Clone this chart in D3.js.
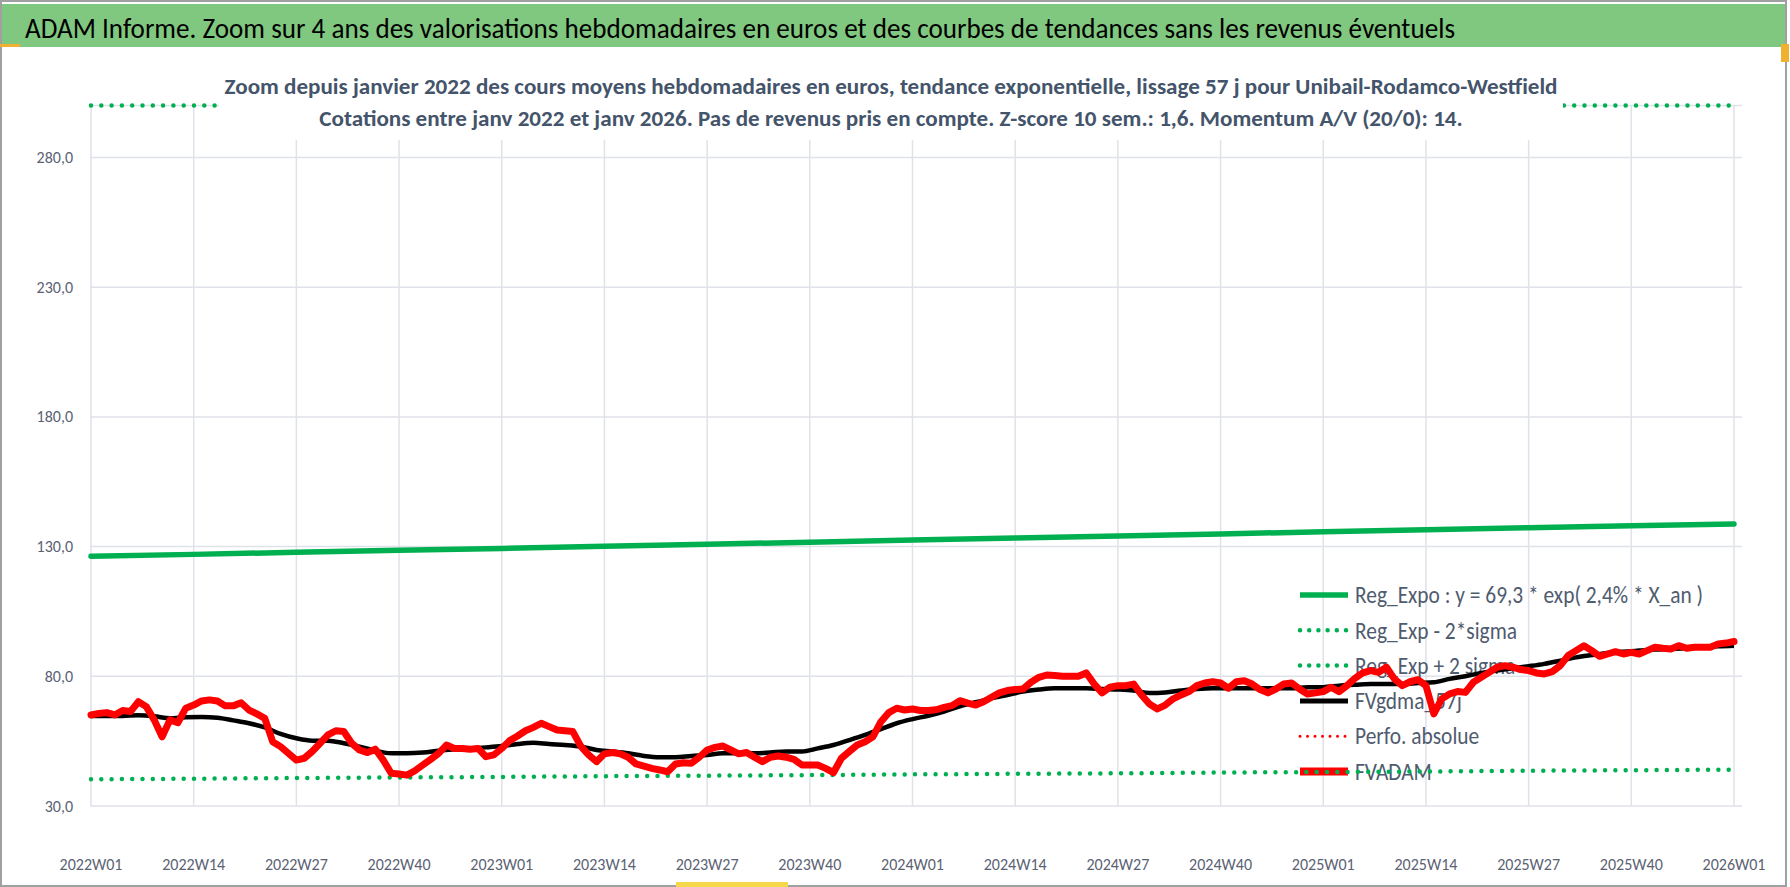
<!DOCTYPE html>
<html>
<head>
<meta charset="utf-8">
<script src="https://cdn.jsdelivr.net/npm/d3@7"></script>
<style>
  body { margin: 0; background: #fff; }
  svg text { font-family: Carlito, Lato, "Open Sans", sans-serif; }
</style>
</head>
<body>
<div id="chart"></div>
<script>
// ---- data ----
var titleText = "ADAM Informe. Zoom sur 4 ans des valorisations hebdomadaires en euros et des courbes de tendances sans les revenus éventuels";
var subtitleLines = [
  "Zoom depuis janvier 2022 des cours moyens hebdomadaires en euros, tendance exponentielle, lissage 57 j pour Unibail-Rodamco-Westfield",
  "Cotations entre janv 2022 et janv 2026. Pas de revenus pris en compte. Z-score 10 sem.: 1,6. Momentum A/V (20/0): 14."
];

// category axis: week index 0 = 2022W01 ... 208 = 2026W01
var weekLabels = ["2022W01", "2022W14", "2022W27", "2022W40", "2023W01", "2023W14", "2023W27", "2023W40",
  "2024W01", "2024W14", "2024W27", "2024W40", "2025W01", "2025W14", "2025W27", "2025W40", "2026W01"];
var labelWeeks = [0, 13, 26, 39, 52, 65, 78, 91, 104, 117, 130, 143, 156, 169, 182, 195, 208];

var yTicks = [30, 80, 130, 180, 230, 280];

// exponential trend and +/- 2 sigma band, read at each labelled week
var regExpo = [126.3, 127.0, 127.8, 128.6, 129.3, 130.1, 130.9, 131.7, 132.5, 133.3, 134.1, 134.9, 135.7, 136.5, 137.3, 138.0, 138.7];
var regExpLow = [40.3, 40.5, 40.8, 41.0, 41.2, 41.5, 41.7, 41.9, 42.2, 42.4, 42.6, 42.9, 43.1, 43.3, 43.6, 43.8, 44.0];
var regExpHigh = [399, 402, 404, 407, 409, 412, 414, 417, 419, 422, 424, 427, 430, 432, 435, 437, 440];

// FVADAM weekly values (week 0 .. 208)
var fvadam = [
  65.1, 65.7, 66.0, 65.1, 66.8, 66.4, 70.2, 68.3, 63.2, 56.7,
  63.2, 62.1, 67.7, 68.9, 70.5, 70.9, 70.5, 68.6, 68.6, 69.8,
  67.0, 65.5, 63.8, 54.8, 52.9, 50.3, 47.7, 48.4, 51.0, 54.2,
  57.4, 59.0, 58.7, 54.2, 51.6, 50.6, 51.9, 47.7, 42.6, 42.3,
  41.9, 43.6, 45.8, 48.0, 50.3, 53.5, 52.2, 52.2, 51.9, 52.2,
  49.0, 49.7, 52.2, 55.2, 57.0, 59.0, 60.3, 61.9, 60.6, 59.3,
  59.0, 58.7, 53.1, 49.7, 47.1, 50.1, 50.6, 50.1, 48.8, 46.2,
  45.4, 44.5, 43.9, 43.2, 46.2, 46.7, 46.5, 48.8, 51.6, 52.6,
  53.1, 51.6, 50.1, 50.6, 48.8, 47.1, 48.8, 49.3, 48.8, 48.0,
  45.8, 45.8, 45.8, 44.5, 42.9, 48.4, 51.0, 53.5, 54.8, 56.7,
  62.5, 66.0, 67.7, 67.0,
  67.4, 66.8, 66.8, 67.1, 68.0, 68.7, 70.6, 69.7, 68.9, 70.2,
  71.9, 73.6, 74.5, 74.9, 75.1, 77.7, 79.6, 80.5, 80.3, 80.0,
  80.0, 80.0, 81.3, 77.0, 73.6, 75.8, 76.4, 76.4, 77.0, 72.8,
  69.3, 67.4, 68.9, 71.3, 72.8, 74.1, 76.4, 77.4, 77.9, 77.4,
  75.4, 77.9, 78.3, 77.0, 74.9, 73.6, 75.1, 77.0, 77.4, 75.1,
  73.2, 73.6, 74.1, 75.8, 74.1, 76.4, 79.2, 81.3, 82.2, 81.5,
  83.5, 79.0, 76.4, 77.9, 78.7, 76.4, 65.5, 71.3, 73.2, 74.1,
  73.8, 77.7, 79.6, 81.5, 83.5, 84.1, 83.5, 82.6, 82.2, 81.3,
  80.9, 81.8, 84.1, 88.0, 89.9, 91.8, 89.9, 87.7, 88.6, 89.5,
  88.6, 89.2, 88.6, 89.9, 91.2, 90.8, 90.5, 91.8, 90.8, 91.2,
  91.2, 91.2, 92.5, 92.8, 93.4
];

// FVgdma_57j, read every second week (week 0, 2, 4 ... 208)
var fvgdma = [
  64.7, 64.7, 64.7, 65.0, 64.6, 63.8, 64.2, 64.3, 64.0, 63.0,
  61.9, 60.3, 57.8, 56.1, 55.2, 55.2, 54.2, 52.9, 51.3, 50.3,
  50.3, 50.6, 51.3, 51.9, 52.2, 52.6, 53.1, 53.9, 54.4, 53.9,
  53.5, 52.9, 51.6, 51.0, 50.3, 49.3, 48.8, 48.8, 49.3, 49.7,
  50.3, 50.3, 50.3, 50.6, 51.0, 51.0, 52.2, 53.5, 55.4, 57.4,
  59.6, 61.9, 63.5, 64.8, 66.4, 68.4, 70.0, 71.5, 72.8, 74.1,
  74.9, 75.4, 75.4, 75.4, 75.1, 74.9, 74.5, 73.6, 73.8, 74.5,
  75.1, 75.4, 75.4, 75.4, 75.4, 75.4, 75.4, 75.8, 75.8, 76.4,
  76.7, 77.0, 77.0, 77.0, 77.4, 77.7, 79.0, 80.0, 81.3, 82.2,
  83.1, 83.9, 84.8, 86.0, 87.3, 88.2, 89.0, 89.5, 89.9, 90.3,
  90.5, 90.8, 91.2, 91.6, 91.8
];
var fvgdmaWeeks = d3.range(0, 209, 2);

var perfoAbsolue = []; // legend only, no visible points

var legendItems = [
  { name: "Reg_Expo : y = 69,3 * exp( 2,4% *  X_an )", type: "solidGreen" },
  { name: "Reg_Exp - 2*sigma", type: "dotGreen" },
  { name: "Reg_Exp + 2 sigma", type: "dotGreen" },
  { name: "FVgdma_57j", type: "black" },
  { name: "Perfo. absolue", type: "dotRed" },
  { name: "FVADAM", type: "red" }
];

// ---- drawing ----
var W = 1790, H = 887;
var GREEN = "#00b050", RED = "#ff0000";

var svg = d3.select("#chart").append("svg")
  .attr("width", W)
  .attr("height", H);

var x = d3.scaleLinear().domain([0, 208]).range([91, 1734]);
var y = d3.scaleLinear().domain([30, 300]).range([806, 105.6]).clamp(true);

// frame + title bar
svg.append("rect").attr("x", 1).attr("y", 1).attr("width", 1785).attr("height", 885)
  .attr("fill", "#fff").attr("stroke", "#a0a0a0").attr("stroke-width", 2);
svg.append("rect").attr("x", 2).attr("y", 4).attr("width", 1783).attr("height", 43)
  .attr("fill", "#80c77f");
svg.append("rect").attr("x", 0).attr("y", 44).attr("width", 20).attr("height", 3).attr("fill", "#f0b030");
svg.append("rect").attr("x", 1781).attr("y", 44).attr("width", 8).attr("height", 18).attr("fill", "#f0b030");
svg.append("rect").attr("x", 676).attr("y", 882).attr("width", 112).attr("height", 5).attr("fill", "#f5d94a");

var title = svg.append("text")
  .attr("x", 25).attr("y", 38)
  .attr("font-size", 29)
  .attr("fill", "#000")
  .text(titleText);
title.attr("textLength", 1430).attr("lengthAdjust", "spacingAndGlyphs");

// gridlines
var grid = svg.append("g").attr("class", "grid");
grid.selectAll(".hgrid").data(yTicks.concat([300]))
  .enter().append("line")
  .attr("x1", 90).attr("x2", 1742)
  .attr("y1", d => y(d)).attr("y2", d => y(d))
  .attr("stroke", "#dfe2e9").attr("stroke-width", 1.5);
grid.selectAll(".vgrid").data(labelWeeks)
  .enter().append("line")
  .attr("x1", d => x(d)).attr("x2", d => x(d))
  .attr("y1", y(300)).attr("y2", y(30))
  .attr("stroke", "#dfe2e9").attr("stroke-width", 1.5);

// axes labels
svg.append("g").selectAll("text").data(yTicks)
  .enter().append("text")
  .attr("x", 73).attr("y", d => y(d))
  .attr("dy", "0.35em")
  .attr("text-anchor", "end")
  .attr("font-size", 16)
  .attr("fill", "#5a6273")
  .text(d => d.toFixed(1).replace(".", ","));

svg.append("g").selectAll("text").data(labelWeeks)
  .enter().append("text")
  .attr("x", d => x(d)).attr("y", 864)
  .attr("dy", "0.35em")
  .attr("text-anchor", "middle")
  .attr("font-size", 16)
  .attr("fill", "#5a6273")
  .text((d, i) => weekLabels[i]);

// legend (sits under the series, like in the reference)
var legend = svg.append("g").attr("transform", "translate(1298,595)");
var rowH = 35.3;
function sampleStyle(sel, type) {
  if (type === "solidGreen") sel.attr("stroke", GREEN).attr("stroke-width", 5.5);
  if (type === "dotGreen") sel.attr("stroke", GREEN).attr("stroke-width", 4.5)
    .attr("stroke-dasharray", "0 9.2").attr("stroke-linecap", "round");
  if (type === "black") sel.attr("stroke", "#000").attr("stroke-width", 5);
  if (type === "dotRed") sel.attr("stroke", RED).attr("stroke-width", 3)
    .attr("stroke-dasharray", "0 7.5").attr("stroke-linecap", "round");
  if (type === "red") sel.attr("stroke", RED).attr("stroke-width", 8);
}
var rows = legend.selectAll(".row").data(legendItems)
  .enter().append("g")
  .attr("transform", (d, i) => "translate(0," + i * rowH + ")");
rows.append("line")
  .attr("x1", 2).attr("x2", 50).attr("y1", 0).attr("y2", 0)
  .each(function(d) { sampleStyle(d3.select(this), d.type); });
var legendText = rows.append("text")
  .attr("x", 57).attr("dy", "0.35em")
  .attr("font-size", 23.5)
  .attr("fill", "#4f5b6e")
  .text(d => d.name);
// squeeze legend text to the reference width
var lr = 348 / legendText.node().getComputedTextLength();
legendText.each(function() {
  var t = d3.select(this);
  t.attr("textLength", this.getComputedTextLength() * lr).attr("lengthAdjust", "spacingAndGlyphs");
});

// series
var plot = svg.append("g");
var bandLine = d3.line().x((d, i) => x(labelWeeks[i])).y(d => y(d));

plot.append("path").datum(regExpHigh)
  .attr("d", bandLine).attr("fill", "none")
  .attr("stroke", GREEN).attr("stroke-width", 4.5)
  .attr("stroke-dasharray", "0 10.3").attr("stroke-linecap", "round");
plot.append("path").datum(regExpLow)
  .attr("d", bandLine).attr("fill", "none")
  .attr("stroke", GREEN).attr("stroke-width", 4.5)
  .attr("stroke-dasharray", "0 10.3").attr("stroke-linecap", "round");
plot.append("path").datum(regExpo)
  .attr("d", bandLine).attr("fill", "none")
  .attr("stroke", GREEN).attr("stroke-width", 5.5)
  .attr("stroke-linecap", "round");

plot.append("path").datum(fvgdma)
  .attr("d", d3.line().x((d, i) => x(fvgdmaWeeks[i])).y(d => y(d)).curve(d3.curveMonotoneX))
  .attr("fill", "none").attr("stroke", "#000").attr("stroke-width", 4.5)
  .attr("stroke-linejoin", "round");

plot.append("path").datum(fvadam)
  .attr("d", d3.line().x((d, i) => x(i)).y(d => y(d)))
  .attr("fill", "none").attr("stroke", RED).attr("stroke-width", 7)
  .attr("stroke-linejoin", "round").attr("stroke-linecap", "round");

// subtitle box hides the top band line, like the reference
svg.append("rect").attr("x", 219).attr("y", 56).attr("width", 1344).attr("height", 84).attr("fill", "#fff");
var sub = svg.append("g").selectAll("text").data(subtitleLines)
  .enter().append("text")
  .attr("x", 891).attr("y", (d, i) => 94 + i * 32)
  .attr("text-anchor", "middle")
  .attr("font-size", 23)
  .attr("font-weight", "bold")
  .attr("fill", "#44546a")
  .text(d => d);
var sr = 1333 / sub.nodes()[0].getComputedTextLength();
sub.each(function() {
  d3.select(this).attr("textLength", this.getComputedTextLength() * sr).attr("lengthAdjust", "spacingAndGlyphs");
});
</script>
</body>
</html>
